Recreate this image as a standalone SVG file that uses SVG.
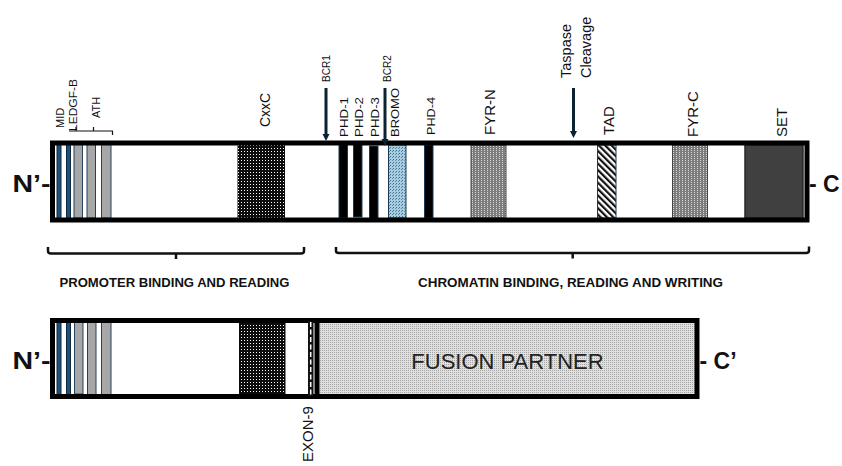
<svg xmlns="http://www.w3.org/2000/svg" width="842" height="466" viewBox="0 0 842 466">
<defs>
  <pattern id="pDark" width="3" height="3" patternUnits="userSpaceOnUse"><rect width="3" height="3" fill="#0d0d0d"/><rect x="1" y="1" width="1" height="1" fill="#ffffff"/></pattern>
  <pattern id="pGray" width="3" height="2" patternUnits="userSpaceOnUse"><rect width="3" height="2" fill="#7d7d7d"/><rect x="1" y="0" width="1" height="1" fill="#d9d9d9"/></pattern>
  <pattern id="pBlue" width="3" height="3" patternUnits="userSpaceOnUse"><rect width="3" height="3" fill="#a6cde0"/><rect x="0" y="0" width="1" height="1" fill="#3f6f8a"/><rect x="2" y="1" width="1" height="1" fill="#5d8aa3"/></pattern>
  <pattern id="pHatch" width="4.5" height="4.5" patternUnits="userSpaceOnUse" patternTransform="rotate(-45)"><rect width="4.5" height="4.5" fill="#ffffff"/><rect width="2.2" height="4.5" fill="#111111"/></pattern>
  <pattern id="pLight" width="2" height="2" patternUnits="userSpaceOnUse"><rect width="2" height="2" fill="#e0e0e0"/><rect width="1" height="1" fill="#a5a5a5"/></pattern>
  <marker id="ah" markerUnits="userSpaceOnUse" markerWidth="8" markerHeight="8" refX="3" refY="3.5" orient="auto"><path d="M0,0 L7,3.5 L0,7 Z" fill="#0b2233"/></marker>
</defs>
<style>
  text{font-family:"Liberation Sans",Arial,sans-serif;fill:#111}
  .s11{font-size:11px}
  .s14{font-size:14px}
  .s15{font-size:15px}
  .head{font-size:13px;font-weight:bold;fill:#111}
  .term{font-size:23px;font-weight:bold;fill:#111}
  .border{fill:none;stroke:#000;stroke-width:5}
  .blue{fill:#1f5078;stroke:#0e2a40;stroke-width:1}
  .gray{fill:#a7a7a7;stroke:#27425c;stroke-width:1}
  .phd{fill:#000;stroke:#1b3a55;stroke-width:1}
  .arrow{stroke:#0b2233;stroke-width:3;fill:none;marker-end:url(#ah)}
  .brace{fill:none;stroke:#111;stroke-width:2.5}
  .tick{fill:none;stroke:#111;stroke-width:1.2}
</style>
<rect width="842" height="466" fill="#ffffff"/>

<!-- Wild-type protein -->
<g id="wt-protein">
  <rect x="52.5" y="143" width="754" height="77" fill="#ffffff"/>
  <g id="wt-mid">
    <rect class="blue" x="57" y="144" width="4" height="74"/>
    <rect class="blue" x="66.5" y="144" width="4" height="74"/>
    <text class="s11" transform="translate(63.5,128) rotate(-90)">MID</text>
  </g>
  <g id="wt-ledgf">
    <rect class="gray" x="74" y="144" width="8.5" height="74"/>
    <text class="s11" transform="translate(76.5,131) rotate(-90)" textLength="52" lengthAdjust="spacingAndGlyphs">LEDGF-B</text>
  </g>
  <g id="wt-ath">
    <rect class="gray" x="87" y="144" width="8.5" height="74"/>
    <rect class="gray" x="101.5" y="144" width="9.5" height="74"/>
    <text class="s11" transform="translate(99.5,118) rotate(-90)">ATH</text>
  </g>
  <g id="wt-cxxc">
    <rect x="237.5" y="145" width="47.5" height="73" fill="url(#pDark)"/>
    <text class="s14" transform="translate(270,127) rotate(-90)">CxxC</text>
  </g>
  <g id="wt-phd1">
    <rect class="phd" x="339" y="144" width="8.5" height="74"/>
    <text class="s11" transform="translate(347.5,137) rotate(-90)" textLength="40" lengthAdjust="spacingAndGlyphs">PHD-1</text>
  </g>
  <g id="wt-phd2">
    <rect class="phd" x="353.5" y="143" width="8.5" height="74"/>
    <text class="s11" transform="translate(363,137) rotate(-90)" textLength="40" lengthAdjust="spacingAndGlyphs">PHD-2</text>
  </g>
  <g id="wt-phd3">
    <rect class="phd" x="369.5" y="146" width="8.5" height="73"/>
    <text class="s11" transform="translate(378.5,137) rotate(-90)" textLength="40" lengthAdjust="spacingAndGlyphs">PHD-3</text>
  </g>
  <g id="wt-bromo">
    <rect x="388.5" y="145" width="17.5" height="73" fill="url(#pBlue)" stroke="#1b3a55" stroke-width="1"/>
    <text class="s11" transform="translate(398.5,137) rotate(-90)" textLength="49" lengthAdjust="spacingAndGlyphs">BROMO</text>
  </g>
  <g id="wt-phd4">
    <rect class="phd" x="424.5" y="145" width="8.5" height="73"/>
    <text class="s11" transform="translate(435,135) rotate(-90)" textLength="38" lengthAdjust="spacingAndGlyphs">PHD-4</text>
  </g>
  <g id="wt-fyrn">
    <rect x="471" y="145" width="35" height="73" fill="url(#pGray)" stroke="#444" stroke-width="1"/>
    <text class="s15" transform="translate(495,135) rotate(-90)">FYR-N</text>
  </g>
  <g id="wt-tad">
    <rect x="597.5" y="145" width="18.5" height="73" fill="url(#pHatch)" stroke="#1f3a55" stroke-width="1"/>
    <text class="s15" transform="translate(613.5,135) rotate(-90)">TAD</text>
  </g>
  <g id="wt-fyrc">
    <rect x="672.5" y="145" width="35" height="73" fill="url(#pGray)" stroke="#444" stroke-width="1"/>
    <text class="s15" transform="translate(698,137) rotate(-90)">FYR-C</text>
  </g>
  <g id="wt-set">
    <rect x="745" y="145" width="58" height="73" fill="#404040" stroke="#262626" stroke-width="1.5"/>
    <text class="s15" transform="translate(787,137) rotate(-90)">SET</text>
  </g>
  <rect class="border" x="52.5" y="143" width="754.5" height="77"/>
  <text class="term" x="12.5" y="191.5" textLength="38" lengthAdjust="spacingAndGlyphs">N’-</text>
  <text class="term" x="809" y="191.5">- C</text>
</g>

<g id="taspase-label">
  <text class="s15" transform="translate(570.5,78) rotate(-90)" style="font-size:14.5px">Taspase</text>
  <text class="s15" transform="translate(590.5,78) rotate(-90)" style="font-size:14.5px">Cleavage</text>
</g>
<g id="bcr-labels">
  <text class="s11" transform="translate(330,82) rotate(-90)" textLength="27" lengthAdjust="spacingAndGlyphs">BCR1</text>
  <text class="s11" transform="translate(391,82) rotate(-90)" textLength="27" lengthAdjust="spacingAndGlyphs">BCR2</text>
</g>

<!-- Region labels -->
<g id="region-promoter">
  <text class="head" x="59.5" y="286.5" textLength="230" lengthAdjust="spacingAndGlyphs">PROMOTER BINDING AND READING</text>
</g>
<g id="region-chromatin">
  <text class="head" x="418" y="286.5" textLength="305" lengthAdjust="spacingAndGlyphs">CHROMATIN BINDING, READING AND WRITING</text>
</g>

<!-- Fusion protein -->
<g id="fusion-protein">
  <rect x="52.5" y="320.5" width="262" height="76" fill="#ffffff"/>
  <g id="fu-mid">
    <rect class="blue" x="57" y="322" width="4" height="73"/>
    <rect class="blue" x="66.5" y="322" width="4" height="73"/>
  </g>
  <g id="fu-ledgf">
    <rect class="gray" x="74.5" y="321" width="8.5" height="73"/>
  </g>
  <g id="fu-ath">
    <rect class="gray" x="87.5" y="322" width="8.5" height="73"/>
    <rect class="gray" x="101.5" y="322" width="9.5" height="73"/>
  </g>
  <g id="fu-cxxc">
    <rect x="239" y="322" width="46.5" height="73" fill="url(#pDark)"/>
  </g>
  <path class="border" d="M315,320.5 H52.5 V396.5 H315"/>
  <g id="fu-exon9">
    <rect x="308" y="321" width="5.5" height="75" fill="#111"/>
    <line x1="310.7" y1="322" x2="310.7" y2="395" stroke="#ffffff" stroke-width="1.5" stroke-dasharray="5 2.5"/>
    <text class="s15" transform="translate(313,462) rotate(-90)">EXON-9</text>
  </g>
  <g id="fu-partner">
    <rect x="317" y="320.5" width="380" height="76" fill="url(#pLight)" stroke="#000" stroke-width="5"/>
    <text x="507.5" y="369" text-anchor="middle" style="font-size:22px;fill:#222">FUSION PARTNER</text>
  </g>
  <text class="term" x="12.5" y="368.5" textLength="38" lengthAdjust="spacingAndGlyphs">N’-</text>
  <text class="term" x="699.5" y="368.5">- C’</text>
</g>

<!-- Connectors: arrows and braces -->
<g id="connectors">
  <line class="arrow" x1="326" y1="88" x2="326" y2="137"/>
  <line class="arrow" x1="385" y1="88" x2="385" y2="142"/>
  <line class="arrow" x1="573.5" y1="88" x2="573.5" y2="134"/>
  <path class="tick" d="M69,131 H112.5 V135 M76,131 V127 M93.5,131 V127"/>
  <path class="brace" d="M48,247 V251 Q48,253.5 51,253.5 H301 Q304,253.5 304,251 V247 M176,253.5 V259"/>
  <path class="brace" d="M336,247 V251 Q336,253 339,253 H806 Q809,253 809,250.5 V246.5 M572.7,253 V258.5"/>
</g>
</svg>
